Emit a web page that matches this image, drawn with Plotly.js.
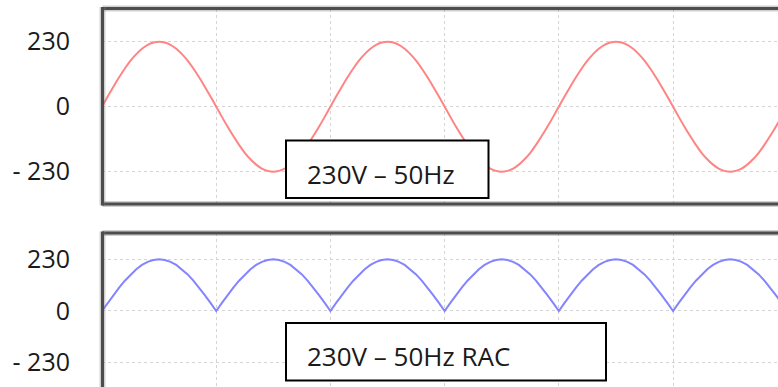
<!DOCTYPE html>
<html>
<head>
<meta charset="utf-8">
<script src="https://cdn.plot.ly/plotly-3.0.1.min.js"></script>
<style>html,body{margin:0;padding:0;background:#fff;}#chart{width:778px;height:387px;}</style>
</head>
<body>
<div id="chart"></div>
<script>
// time in milliseconds (sampled every 0.5 ms)
var timeMs = [
  0,0.5,1,1.5,2,2.5,3,3.5,4,4.5,5,5.5,6,6.5,7,7.5,8,8.5,9,9.5,
  10,10.5,11,11.5,12,12.5,13,13.5,14,14.5,15,15.5,16,16.5,17,17.5,18,18.5,19,19.5,
  20,20.5,21,21.5,22,22.5,23,23.5,24,24.5,25,25.5,26,26.5,27,27.5,28,28.5,29,29.5,
  30,30.5,31,31.5,32,32.5,33,33.5,34,34.5,35,35.5,36,36.5,37,37.5,38,38.5,39,39.5,
  40,40.5,41,41.5,42,42.5,43,43.5,44,44.5,45,45.5,46,46.5,47,47.5,48,48.5,49,49.5,
  50,50.5,51,51.5,52,52.5,53,53.5,54,54.5,55,55.5,56,56.5,57,57.5,58,58.5,59,59.5,
  60
];

// 230V - 50Hz mains voltage (V)
var mainsVoltage = [
  0,36,71,104,135,163,186,205,219,227,230,227,219,205,186,163,135,104,71,36,
  0,-36,-71,-104,-135,-163,-186,-205,-219,-227,-230,-227,-219,-205,-186,-163,-135,-104,-71,-36,
  0,36,71,104,135,163,186,205,219,227,230,227,219,205,186,163,135,104,71,36,
  0,-36,-71,-104,-135,-163,-186,-205,-219,-227,-230,-227,-219,-205,-186,-163,-135,-104,-71,-36,
  0,36,71,104,135,163,186,205,219,227,230,227,219,205,186,163,135,104,71,36,
  0,-36,-71,-104,-135,-163,-186,-205,-219,-227,-230,-227,-219,-205,-186,-163,-135,-104,-71,-36,
  0
];

// 230V - 50Hz rectified (RAC) voltage (V)
var rectifiedVoltage = [
  0,36,71,104,135,163,186,205,219,227,230,227,219,205,186,163,135,104,71,36,
  0,36,71,104,135,163,186,205,219,227,230,227,219,205,186,163,135,104,71,36,
  0,36,71,104,135,163,186,205,219,227,230,227,219,205,186,163,135,104,71,36,
  0,36,71,104,135,163,186,205,219,227,230,227,219,205,186,163,135,104,71,36,
  0,36,71,104,135,163,186,205,219,227,230,227,219,205,186,163,135,104,71,36,
  0,36,71,104,135,163,186,205,219,227,230,227,219,205,186,163,135,104,71,36,
  0
];

var yTickVals = [-230, 0, 230];
var yTickText = ['- 230', '0', '230'];
var boxLabels = ['230V \u2013 50Hz', '230V \u2013 50Hz RAC'];

var W = 778, H = 387;
function px(x){ return x / W; }
function py(y){ return 1 - y / H; }

var fontFam = '"Open Sans", "Noto Sans", sans-serif';

var traces = [
  {x: timeMs, y: mainsVoltage, xaxis: 'x', yaxis: 'y', mode: 'lines',
   line: {color: '#ff8484', width: 2, shape: 'spline'}, hoverinfo: 'skip'},
  {x: timeMs, y: rectifiedVoltage, xaxis: 'x2', yaxis: 'y2', mode: 'lines',
   line: {color: '#8484ff', width: 2}, hoverinfo: 'skip'}
];

var xCommon = {
  range: [0, 59.19], tick0: 0, dtick: 10, showticklabels: false,
  showgrid: true, gridcolor: '#d4d4d4', griddash: 'dot', gridwidth: 1,
  zeroline: false, showline: false, ticks: ''
};
var yCommon = {
  tickvals: yTickVals, ticktext: yTickText,
  showgrid: true, gridcolor: '#d4d4d4', griddash: 'dot', gridwidth: 1,
  zeroline: false, showline: false,
  ticks: 'outside', ticklen: 26, tickcolor: 'rgba(0,0,0,0)',
  tickfont: {family: fontFam, size: 25, color: '#1a1a1a'}
};

function frameLine(x0, y0, x1, y1){
  return [
    {type: 'line', xref: 'paper', yref: 'paper', x0: px(x0), y0: py(y0), x1: px(x1), y1: py(y1),
     line: {color: 'rgba(120,120,120,0.35)', width: 6}, layer: 'above'},
    {type: 'line', xref: 'paper', yref: 'paper', x0: px(x0), y0: py(y0), x1: px(x1), y1: py(y1),
     line: {color: '#4d4d4d', width: 3}, layer: 'above'}
  ];
}

var shapes = [];
shapes = shapes.concat(frameLine(102.5, 8.5, 780, 8.5));
shapes = shapes.concat(frameLine(102.5, 204, 780, 204));
shapes = shapes.concat(frameLine(102.5, 7, 102.5, 205.5));
shapes = shapes.concat(frameLine(102.5, 233, 780, 233));
shapes = shapes.concat(frameLine(102.5, 231.5, 102.5, 390));
shapes.push({type: 'rect', xref: 'paper', yref: 'paper',
  x0: px(286), y0: py(198), x1: px(488.5), y1: py(140.5),
  fillcolor: '#ffffff', line: {color: '#000000', width: 2}, layer: 'above'});
shapes.push({type: 'rect', xref: 'paper', yref: 'paper',
  x0: px(286), y0: py(380.5), x1: px(606), y1: py(323),
  fillcolor: '#ffffff', line: {color: '#000000', width: 2}, layer: 'above'});

var layout = {
  width: W, height: H,
  margin: {l: 0, r: 0, t: 0, b: 0, pad: 0},
  paper_bgcolor: '#ffffff', plot_bgcolor: '#ffffff',
  showlegend: false,
  xaxis: Object.assign({}, xCommon, {anchor: 'y', domain: [px(102), 1]}),
  yaxis: Object.assign({}, yCommon, {anchor: 'x', domain: [py(204), py(8.5)], range: [-344.3, 347.5]}),
  xaxis2: Object.assign({}, xCommon, {anchor: 'y2', domain: [px(102), 1]}),
  yaxis2: Object.assign({}, yCommon, {anchor: 'x2', domain: [0, py(233)], range: [-338.5, 347.3]}),
  shapes: shapes,
  annotations: [
    {xref: 'paper', yref: 'paper', x: px(305), y: py(174), xanchor: 'left', yanchor: 'middle',
     text: boxLabels[0], showarrow: false, font: {family: fontFam, size: 26, color: '#1a1a1a'}},
    {xref: 'paper', yref: 'paper', x: px(305), y: py(356), xanchor: 'left', yanchor: 'middle',
     text: boxLabels[1], showarrow: false, font: {family: fontFam, size: 26, color: '#1a1a1a'}}
  ]
};

Plotly.newPlot('chart', traces, layout, {staticPlot: true, displayModeBar: false});
</script>
</body>
</html>
